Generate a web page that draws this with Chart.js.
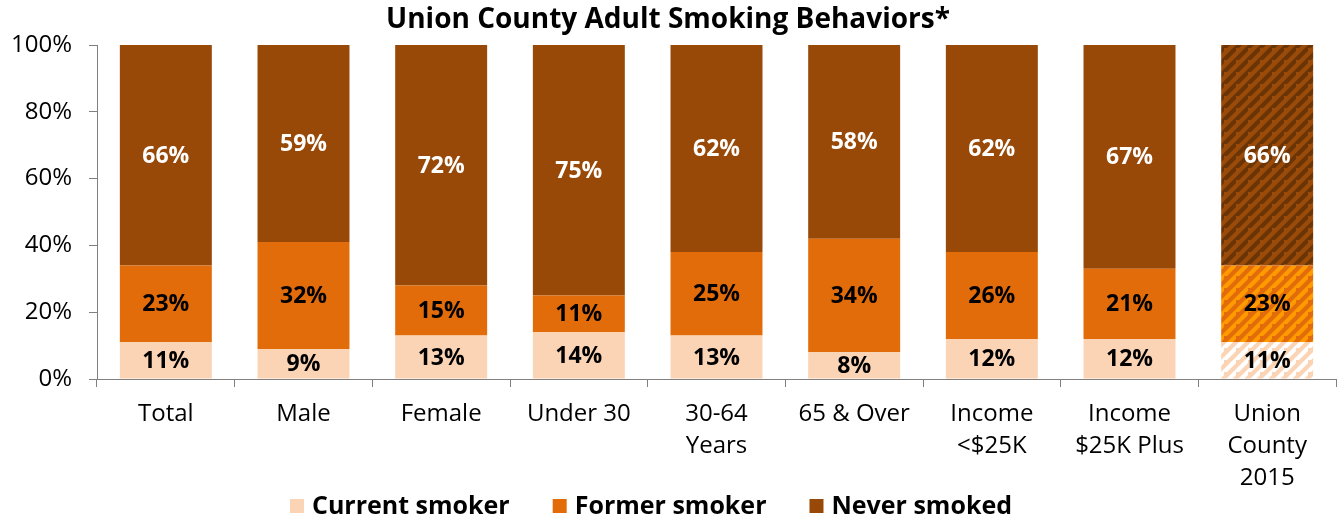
<!DOCTYPE html>
<html>
<head>
<meta charset="utf-8">
<script src="https://cdn.jsdelivr.net/npm/chart.js@4.4.1/dist/chart.umd.min.js"></script>
<style>
  html, body { margin: 0; padding: 0; background: #ffffff; }
  #wrap { width: 1339px; height: 521px; }
</style>
</head>
<body>
<div id="wrap"><canvas id="chart" width="1339" height="521"></canvas></div>
<script>
// Survey groups along the x axis
const categories = [
  'Total', 'Male', 'Female', 'Under 30', ['30-64', 'Years'], '65 & Over',
  ['Income', '<$25K'], ['Income', '$25K Plus'], ['Union', 'County', '2015']
];

// Share of adults in each group (percent)
const currentSmoker = [11, 9, 13, 14, 13, 8, 12, 12, 11];
const formerSmoker  = [23, 32, 15, 11, 25, 34, 26, 21, 23];
const neverSmoked   = [66, 59, 72, 75, 62, 58, 62, 67, 66];

const seriesNames = ['Current smoker', 'Former smoker', 'Never smoked'];
const yTicks = [0, 20, 40, 60, 80, 100];

const FONT = "'Open Sans', 'Noto Sans', sans-serif";
const colors = {
  current: '#FAD4B4',
  former: '#E36C0A',
  never: '#984807'
};

// Diagonal stripe fill used for the 2015 comparison bar
function stripes(base, stripe) {
  const s = 12;
  const c = document.createElement('canvas');
  c.width = s; c.height = s;
  const g = c.getContext('2d');
  g.fillStyle = base;
  g.fillRect(0, 0, s, s);
  g.strokeStyle = stripe;
  g.lineWidth = s / 2 / Math.SQRT2;
  g.lineCap = 'square';
  g.beginPath();
  g.moveTo(-s, s * 2); g.lineTo(s * 2, -s);
  g.moveTo(-s * 2, s); g.lineTo(s, -s * 2);
  g.moveTo(0, s * 2); g.lineTo(s * 2, 0);
  g.stroke();
  return g.createPattern(c, 'repeat');
}

function fillsFor(base, hatch) {
  return categories.map((_, i) => i === categories.length - 1 ? hatch : base);
}

const currentFill = fillsFor(colors.current, stripes('#FAD4B4', '#FFFFFF'));
const formerFill  = fillsFor(colors.former, stripes('#E36C0A', '#FF9A00'));
const neverFill   = fillsFor(colors.never, stripes('#9A4B0A', '#6A3405'));

// Values printed in the middle of each segment
const segmentLabels = {
  id: 'segmentLabels',
  afterDatasetsDraw(chart) {
    const ctx = chart.ctx;
    ctx.save();
    ctx.font = `bold 23px ${FONT}`;
    ctx.textAlign = 'center';
    ctx.textBaseline = 'middle';
    chart.data.datasets.forEach((ds, di) => {
      const meta = chart.getDatasetMeta(di);
      meta.data.forEach((bar, i) => {
        const v = ds.data[i];
        const p = bar.getProps(['x', 'y', 'base'], true);
        ctx.fillStyle = ds.labelColor;
        ctx.fillText(v + '%', p.x, (p.y + p.base) / 2 + 1);
      });
    });
    ctx.restore();
  }
};

// Legend row along the bottom edge
const bottomLegend = {
  id: 'bottomLegend',
  afterDraw(chart) {
    const ctx = chart.ctx;
    ctx.save();
    ctx.font = `bold 25px ${FONT}`;
    ctx.textBaseline = 'middle';
    const box = 14, gapText = 8, gapItem = 43;
    const items = chart.data.datasets.map(ds => ({ text: ds.label, color: ds.legendColor }));
    const widths = items.map(it => box + gapText + ctx.measureText(it.text).width);
    let x = 290;
    const y = 506;
    items.forEach((it, i) => {
      ctx.fillStyle = it.color;
      ctx.fillRect(x, y - box / 2, box, box);
      ctx.fillStyle = '#000000';
      ctx.fillText(it.text, x + box + gapText, y + 1);
      x += widths[i] + gapItem;
    });
    ctx.restore();
  }
};

const makeSet = (name, data, fill, legendColor, labelColor) => ({
  label: name,
  data,
  backgroundColor: fill,
  legendColor,
  labelColor,
  borderWidth: 0,
  categoryPercentage: 1.0,
  barPercentage: 0.668
});

new Chart(document.getElementById('chart'), {
  type: 'bar',
  data: {
    labels: categories,
    datasets: [
      makeSet(seriesNames[0], currentSmoker, currentFill, colors.current, '#000000'),
      makeSet(seriesNames[1], formerSmoker, formerFill, colors.former, '#000000'),
      makeSet(seriesNames[2], neverSmoked, neverFill, colors.never, '#FFFFFF')
    ]
  },
  options: {
    responsive: false,
    animation: false,
    devicePixelRatio: 1,
    layout: { padding: { left: 0, right: 3, top: 0, bottom: 16 } },
    plugins: {
      legend: { display: false },
      tooltip: { enabled: false },
      title: {
        display: true,
        text: 'Union County Adult Smoking Behaviors*',
        color: '#000000',
        font: { family: FONT, size: 28, weight: 'bold', lineHeight: 1.2 },
        padding: { top: 3, bottom: 8.4 }
      }
    },
    scales: {
      x: {
        stacked: true,
        offset: true,
        grid: {
          display: true,
          drawOnChartArea: false,
          drawTicks: true,
          tickLength: 8,
          color: '#808080',
          offset: true
        },
        border: { color: '#808080', width: 1 },
        ticks: {
          color: '#000000',
          font: { family: FONT, size: 24, lineHeight: 1.333 },
          padding: 11,
          maxRotation: 0,
          autoSkip: false
        }
      },
      y: {
        stacked: true,
        min: 0,
        max: 100,
        afterFit(scale) { scale.width = 97; },
        afterBuildTicks(scale) { scale.ticks = yTicks.map(v => ({ value: v })); },
        grid: {
          display: true,
          drawOnChartArea: false,
          drawTicks: true,
          tickLength: 8,
          color: '#808080'
        },
        border: { color: '#808080', width: 1 },
        ticks: {
          color: '#000000',
          font: { family: FONT, size: 24 },
          padding: 17,
          callback: v => v + '%'
        }
      }
    }
  },
  plugins: [segmentLabels, bottomLegend]
});
</script>
</body>
</html>
